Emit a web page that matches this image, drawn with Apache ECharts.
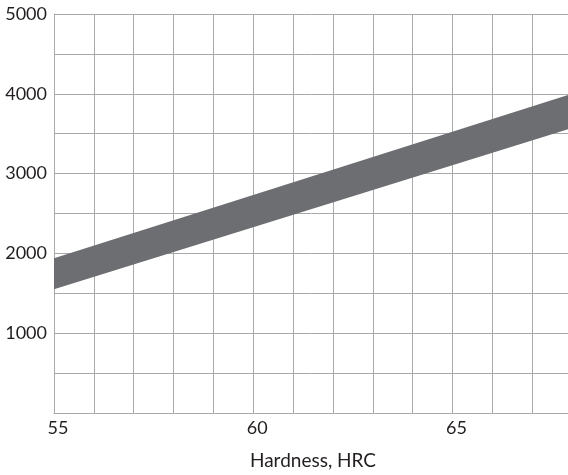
<!DOCTYPE html>
<html>
<head>
<meta charset="utf-8">
<script src="https://cdn.jsdelivr.net/npm/echarts@6/dist/echarts.min.js"></script>
<style>html,body{margin:0;padding:0;background:#fff}#c{width:568px;height:475px}</style>
</head>
<body>
<div id="c"></div>
<script>
const hardness = [55, 68];
const lowerBound = [1550, 3570];
const upperBound = [1940, 4000];
const xTickLabels = [55, 60, 65];
const yTickLabels = [1000, 2000, 3000, 4000, 5000];

const chart = echarts.init(document.getElementById('c'));
const gridColor = '#a7a9ac';
const textColor = '#231f20';
const bandData = hardness.map((h, i) => [h, lowerBound[i], upperBound[i]]);

chart.setOption({
  animation: false,
  grid: { left: 54, top: 14, right: -4, bottom: 62, containLabel: false, outerBoundsMode: 'none' },
  xAxis: {
    type: 'value', min: 55, max: 68, interval: 1,
    name: 'Hardness, HRC', nameLocation: 'middle', nameGap: 38,
    nameTextStyle: { fontFamily: 'Lato', fontSize: 19, color: textColor },
    axisLine: { show: true, lineStyle: { color: gridColor, width: 1 } },
    axisTick: { show: false },
    splitLine: { show: true, lineStyle: { color: gridColor, width: 1 } },
    axisLabel: {
      margin: 6, fontFamily: 'Lato', fontSize: 18, color: textColor,
      padding: [0, 0, 0, 8],
      formatter: v => xTickLabels.includes(v) ? String(v) : ''
    }
  },
  yAxis: {
    type: 'value', min: 0, max: 5000, interval: 500,
    axisLine: { show: true, lineStyle: { color: gridColor, width: 1 } },
    axisTick: { show: false },
    splitLine: { show: true, lineStyle: { color: gridColor, width: 1 } },
    axisLabel: {
      margin: 7, fontFamily: 'Lato', fontSize: 18, color: textColor,
      formatter: v => yTickLabels.includes(v) ? String(v) : ''
    }
  },
  series: [
    {
      type: 'custom',
      coordinateSystem: 'cartesian2d',
      encode: { x: 0, y: [1, 2] },
      data: bandData,
      renderItem: function (params, api) {
        if (params.dataIndex !== 0) return null;
        const upper = bandData.map(d => api.coord([d[0], d[2]]));
        const lower = bandData.map(d => api.coord([d[0], d[1]])).reverse();
        return {
          type: 'polygon',
          shape: { points: upper.concat(lower) },
          style: { fill: '#6d6e71' }
        };
      }
    }
  ]
});
</script>
</body>
</html>
